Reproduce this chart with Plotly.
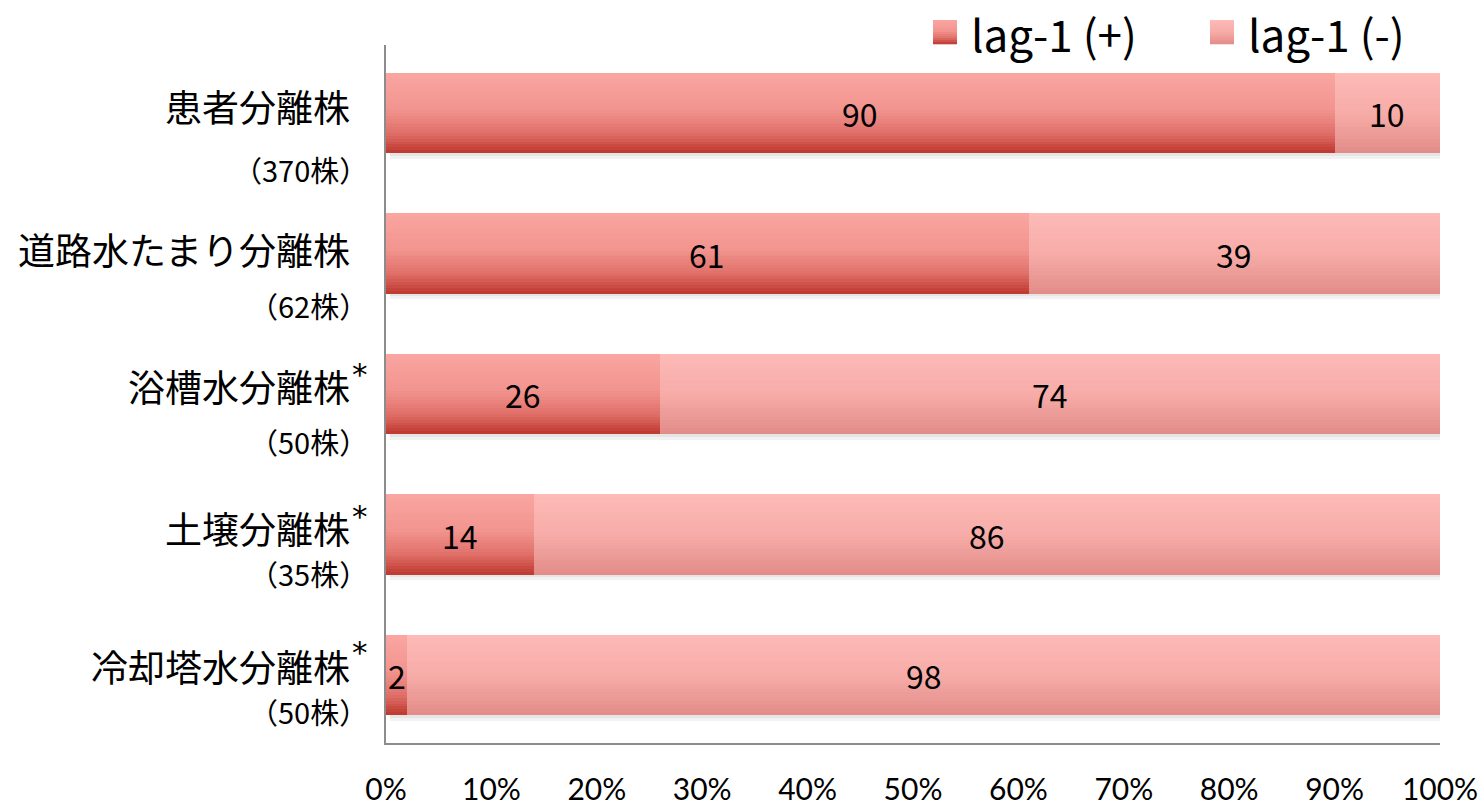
import plotly.graph_objects as go

# ---- data -------------------------------------------------------------
categories = ["患者分離株", "道路水たまり分離株", "浴槽水分離株", "土壌分離株", "冷却塔水分離株"]
strain_counts = ["（370株）", "（62株）", "（50株）", "（35株）", "（50株）"]
significant = [False, False, True, True, True]
lag_pos = [90, 61, 26, 14, 2]      # lag-1 (+) %
lag_neg = [10, 39, 74, 86, 98]     # lag-1 (-) %
series_names = ["lag-1 (+)", "lag-1 (-)"]
x_ticks = [0, 10, 20, 30, 40, 50, 60, 70, 80, 90, 100]

# ---- style ------------------------------------------------------------
FONT = "Noto Sans CJK JP"
TICK_FONT = "Lato"
W, H = 1484, 807
L, R, T, B = 386, 1440, 45, 743
BAR_W = 0.57
N_BANDS = 28
AXIS_COLOR = "#8c8c8c"
NAME_SIZE, COUNT_SIZE = 37, 29

# vertical gradient stops (top -> bottom)
GRAD_POS = [(0.0, (250, 166, 161)), (0.45, (242, 148, 143)), (0.75, (224, 112, 105)), (1.0, (190, 55, 46))]
GRAD_NEG = [(0.0, (253, 186, 183)), (0.5, (247, 172, 168)), (1.0, (226, 140, 136))]

# per-row label layout: offsets (px, downward) of each line's centre from the bar centre
line1_off = [-5.5, -3, -6, -5, -7.5]
line2_off = [56.5, 52, 47, 39, 36.5]
star_shift = [0, 0, 20, 19, 23]


def grad_color(stops, t):
    for (t0, c0), (t1, c1) in zip(stops, stops[1:]):
        if t0 <= t <= t1:
            f = (t - t0) / (t1 - t0) if t1 > t0 else 0
            c = [round(a + (b - a) * f) for a, b in zip(c0, c1)]
            return "rgb(%d,%d,%d)" % tuple(c)
    return "rgb(%d,%d,%d)" % stops[-1][1]


rows = list(range(len(categories)))
totals = [p + n for p, n in zip(lag_pos, lag_neg)]

fig = go.Figure()

# soft drop shadow beneath each bar
for off, h, a in [(BAR_W / 2, 0.02, 0.10), (BAR_W / 2 + 0.02, 0.02, 0.05)]:
    fig.add_trace(go.Bar(
        orientation="h", x=totals, y=rows, base=[0.4] * len(rows),
        width=h, offset=off, marker=dict(color="rgba(0,0,0,%.2f)" % a, line_width=0),
        hoverinfo="skip", showlegend=False))

# gradient-filled stacked bars, built from thin horizontal bands
band = BAR_W / N_BANDS
for name, vals, bases, stops in [
    (series_names[0], lag_pos, [0] * len(rows), GRAD_POS),
    (series_names[1], lag_neg, lag_pos, GRAD_NEG),
]:
    for k in range(N_BANDS):
        t = (k + 0.5) / N_BANDS
        fig.add_trace(go.Bar(
            orientation="h", x=vals, y=rows, base=bases,
            width=band * 1.04, offset=-BAR_W / 2 + k * band,
            marker=dict(color=grad_color(stops, t), line_width=0),
            name=name, showlegend=False,
            hovertemplate=name + ": %{x}%<extra></extra>"))

# value labels centred in each segment
for i in rows:
    fig.add_annotation(x=lag_pos[i] / 2, y=i, text=str(lag_pos[i]), showarrow=False,
                       font=dict(family=FONT, size=32, color="#000"))
    fig.add_annotation(x=lag_pos[i] + lag_neg[i] / 2, y=i, text=str(lag_neg[i]), showarrow=False,
                       font=dict(family=FONT, size=32, color="#000"))

# category labels: name, strain count below it, significance mark
for i in rows:
    fig.add_annotation(x=0, y=i, xref="x", yref="y", text=categories[i], showarrow=False,
                       xanchor="right", yanchor="middle", xshift=-34, yshift=-line1_off[i] + 2,
                       font=dict(family=FONT, size=NAME_SIZE, color="#000"))
    fig.add_annotation(x=0, y=i, xref="x", yref="y", text=strain_counts[i], showarrow=False,
                       xanchor="right", yanchor="middle", xshift=-16, yshift=-line2_off[i] + 0.5,
                       font=dict(family=FONT, size=COUNT_SIZE, color="#000"))
    if significant[i]:
        fig.add_annotation(x=0, y=i, xref="x", yref="y", text="*", showarrow=False,
                           xanchor="left", yanchor="middle", xshift=-36, yshift=star_shift[i],
                           font=dict(family="DejaVu Sans", size=31, color="#000"))


# legend drawn with gradient swatches
def xp(px):
    return (px - L) / (R - L)


def yp(py):
    return (B - py) / (B - T)


legend_items = [(series_names[0], GRAD_POS, 933), (series_names[1], GRAD_NEG, 1210)]
SW, SY0, SY1 = 24, 20, 44
for label, stops, x0 in legend_items:
    nk = 12
    for k in range(nk):
        y0 = SY0 + (SY1 - SY0) * k / nk
        y1 = SY0 + (SY1 - SY0) * (k + 1) / nk
        fig.add_shape(type="rect", xref="paper", yref="paper",
                      x0=xp(x0), x1=xp(x0 + SW), y0=yp(y1 + 0.3), y1=yp(y0),
                      fillcolor=grad_color(stops, (k + 0.5) / nk), line_width=0, layer="above")
    fig.add_annotation(xref="paper", yref="paper", x=xp(x0 + SW + 12), y=yp(33),
                       text=label, showarrow=False, xanchor="left", yanchor="middle",
                       font=dict(family=FONT, size=44, color="#000"))

fig.update_layout(
    width=W, height=H,
    margin=dict(l=L, r=W - R, t=T, b=H - B, pad=0, autoexpand=False),
    paper_bgcolor="white", plot_bgcolor="white",
    barmode="overlay", bargap=0,
    showlegend=False,
    font=dict(family=FONT, color="#000"),
    xaxis=dict(range=[0, 100], tickvals=x_ticks, ticktext=["%d%%" % v for v in x_ticks],
               showgrid=False, zeroline=False, showline=True, linecolor=AXIS_COLOR, linewidth=2,
               ticks="", ticklabelstandoff=19, tickfont=dict(family=TICK_FONT, size=30, color="#000"),
               automargin=False, fixedrange=True),
    yaxis=dict(range=[len(rows) - 0.516, -0.484], showticklabels=False, showgrid=False,
               zeroline=False, showline=True, linecolor=AXIS_COLOR, linewidth=2, ticks="",
               automargin=False, fixedrange=True),
)

fig.write_html("out.html")
